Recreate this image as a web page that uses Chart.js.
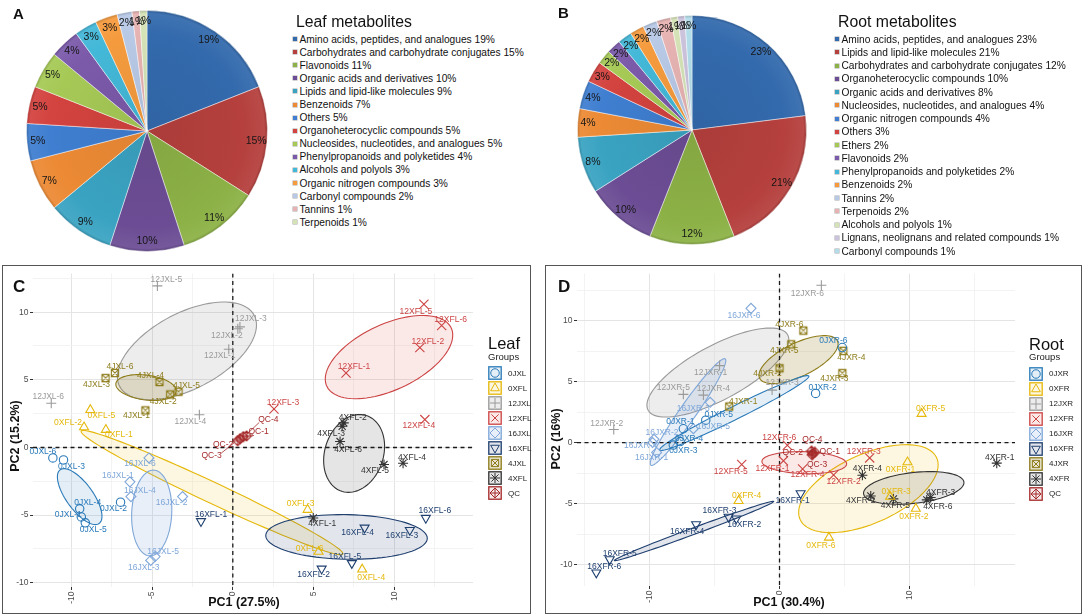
<!DOCTYPE html>
<html>
<head>
<meta charset="utf-8">
<title>Leaf and root metabolites</title>
<script src="https://cdn.jsdelivr.net/npm/chart.js@4.4.1/dist/chart.umd.min.js"></script>
<style>
  body { margin: 0; width: 1084px; height: 615px; background: #fff; position: relative; overflow: hidden;
         font-family: "Liberation Sans", Arial, Helvetica, sans-serif; color: #111; }
  .abs { position: absolute; }
  .tag { font-weight: bold; line-height: 1; }
  .pieTitle { font-size: 15.8px; line-height: 1; white-space: nowrap; }
  .pieLeg div { font-size: 10.2px; white-space: nowrap; display: flex; align-items: center; }
  .pieLeg i { display: inline-block; width: 4px; height: 4px; margin-right: 2.5px; box-shadow: 0 0 0 0.5px rgba(0,0,0,.35); }
  .frame { border: 1.5px solid #555; box-sizing: border-box; }
  .axTitle { font-weight: bold; font-size: 12.5px; white-space: nowrap; transform: translate(-50%, -50%); }
  .axTitle.v { transform: translate(-50%, -50%) rotate(-90deg); }
  .grpTitle { font-size: 16.5px; line-height: 1; }
  .grpSub { font-size: 9.5px; line-height: 1; color: #222; }
  .grpLeg div { height: 15px; display: flex; align-items: center; font-size: 8px; color: #222; }
  .grpLeg canvas { margin-right: 6px; }
</style>
</head>
<body>

<canvas id="pieA" class="abs" style="left:0;top:0" width="290" height="260"></canvas>
<canvas id="pieB" class="abs" style="left:545px;top:0" width="290" height="260"></canvas>
<div class="abs tag" style="left:13px;top:6px;font-size:15px">A</div>
<div class="abs tag" style="left:558px;top:5px;font-size:15px">B</div>
<div class="abs pieTitle" style="left:296px;top:14px">Leaf metabolites</div>
<div class="abs pieTitle" style="left:838px;top:14px">Root metabolites</div>
<div id="legA" class="abs pieLeg" style="left:293px;top:32.5px"></div>
<div id="legB" class="abs pieLeg" style="left:835px;top:32.4px"></div>

<div class="abs frame" style="left:2px;top:265px;width:529px;height:349px"></div>
<div class="abs frame" style="left:545px;top:265px;width:537px;height:349px"></div>
<canvas id="pcaLeaf" class="abs" style="left:4px;top:266px" width="524" height="345"></canvas>
<canvas id="pcaRoot" class="abs" style="left:548px;top:266px" width="530" height="345"></canvas>
<div class="abs tag" style="left:13px;top:278px;font-size:17px">C</div>
<div class="abs tag" style="left:558px;top:278px;font-size:17px">D</div>
<div class="abs axTitle" style="left:244px;top:602px">PC1 (27.5%)</div>
<div class="abs axTitle v" style="left:15px;top:436px">PC2 (15.2%)</div>
<div class="abs axTitle" style="left:789px;top:602px">PC1 (30.4%)</div>
<div class="abs axTitle v" style="left:556px;top:439px">PC2 (16%)</div>

<div class="abs grpTitle" style="left:488px;top:334.5px">Leaf</div>
<div class="abs grpSub" style="left:488px;top:352px">Groups</div>
<div id="grpLeaf" class="abs grpLeg" style="left:488px;top:365.8px"></div>
<div class="abs grpTitle" style="left:1029px;top:335.5px">Root</div>
<div class="abs grpSub" style="left:1029px;top:352px">Groups</div>
<div id="grpRoot" class="abs grpLeg" style="left:1029px;top:366px"></div>

<script>
// ---- pie data (A: leaf, B: root) ----
const leafClasses = ['Amino acids, peptides, and analogues', 'Carbohydrates and carbohydrate conjugates', 'Flavonoids',
  'Organic acids and derivatives', 'Lipids and lipid-like molecules', 'Benzenoids', 'Others', 'Organoheterocyclic compounds',
  'Nucleosides, nucleotides, and analogues', 'Phenylpropanoids and polyketides', 'Alcohols and polyols',
  'Organic nitrogen compounds', 'Carbonyl compounds', 'Tannins', 'Terpenoids'];
const leafShares = [19, 15, 11, 10, 9, 7, 5, 5, 5, 4, 3, 3, 2, 1, 1];

const rootClasses = ['Amino acids, peptides, and analogues', 'Lipids and lipid-like molecules',
  'Carbohydrates and carbohydrate conjugates', 'Organoheterocyclic compounds', 'Organic acids and derivatives',
  'Nucleosides, nucleotides, and analogues', 'Organic nitrogen compounds', 'Others', 'Ethers', 'Flavonoids',
  'Phenylpropanoids and polyketides', 'Benzenoids', 'Tannins', 'Terpenoids', 'Alcohols and polyols',
  'Lignans, neolignans and related compounds', 'Carbonyl compounds'];
const rootShares = [23, 21, 12, 10, 8, 4, 4, 3, 2, 2, 2, 2, 2, 2, 1, 1, 1];

// ---- PCA scores (C: leaf, D: root) ----
const leafSamples = ['0JXL-1','0JXL-2','0JXL-3','0JXL-4','0JXL-5','0JXL-6',
  '0XFL-1','0XFL-2','0XFL-3','0XFL-4','0XFL-5','0XFL-6',
  '12JXL-1','12JXL-2','12JXL-3','12JXL-4','12JXL-5','12JXL-6',
  '12XFL-1','12XFL-2','12XFL-3','12XFL-4','12XFL-5','12XFL-6',
  '16JXL-1','16JXL-2','16JXL-3','16JXL-4','16JXL-5','16JXL-6',
  '16XFL-1','16XFL-2','16XFL-3','16XFL-4','16XFL-5','16XFL-6',
  '4JXL-1','4JXL-2','4JXL-3','4JXL-4','4JXL-5','4JXL-6',
  '4XFL-1','4XFL-2','4XFL-3','4XFL-4','4XFL-5','4XFL-6',
  'QC-1','QC-2','QC-3','QC-4'];
const leafPC1 = [-9.38, -6.95, -10.48, -9.48, -9.13, -11.14,
  -7.86, -9.21, 4.63, 8.01, -8.82, 5.31,
  -0.25, 0.31, 0.44, -2.07, -4.67, -11.24,
  7.01, 11.58, 2.55, 11.89, 11.83, 12.93,
  -6.37, -3.11, -5.08, -6.31, -4.81, -5.19,
  -1.97, 5.50, 10.96, 8.16, 7.37, 11.95,
  -5.41, -3.88, -7.88, -4.54, -3.36, -7.30,
  4.98, 6.87, 6.77, 10.54, 9.36, 6.64,
  0.85, 0.45, 0.30, 0.65];
const leafPC2 = [-5.13, -4.04, -0.92, -4.53, -5.57, -0.77,
  1.31, 1.50, -4.60, -9.01, 2.78, -7.70,
  7.26, 8.77, 8.91, 2.42, 11.94, 3.27,
  5.50, 7.38, 2.85, 2.06, 10.58, 9.01,
  -2.54, -3.63, -8.35, -3.63, -8.06, -0.77,
  -5.45, -8.96, -6.10, -5.93, -8.55, -5.21,
  2.74, 3.92, 5.13, 4.84, 4.12, 5.50,
  -5.21, 1.82, 1.57, -1.16, -1.26, 0.44,
  0.85, 0.65, 0.50, 0.80];

const rootSamples = ['0JXR-1','0JXR-2','0JXR-3','0JXR-4','0JXR-5','0JXR-6',
  '0XFR-1','0XFR-2','0XFR-3','0XFR-4','0XFR-5','0XFR-6',
  '12JXR-1','12JXR-2','12JXR-3','12JXR-4','12JXR-5','12JXR-6',
  '12XFR-1','12XFR-2','12XFR-3','12XFR-4','12XFR-5','12XFR-6',
  '16JXR-1','16JXR-2','16JXR-3','16JXR-4','16JXR-5','16JXR-6',
  '16XFR-1','16XFR-2','16XFR-3','16XFR-4','16XFR-5','16XFR-6',
  '4JXR-1','4JXR-2','4JXR-3','4JXR-4','4JXR-5','4JXR-6',
  '4XFR-1','4XFR-2','4XFR-3','4XFR-4','4XFR-5','4XFR-6',
  'QC-1','QC-2','QC-3','QC-4'];
const rootPC1 = [-7.38, 2.77, -8.15, -7.63, -5.66, 4.82,
  9.82, 10.46, 8.49, -3.14, 10.90, 3.79,
  -4.60, -12.72, -0.57, -5.84, -7.38, 3.21,
  0.30, 4.15, 6.92, 1.77, -2.90, 0.60,
  -9.43, -9.63, -5.32, -9.74, -6.61, -2.19,
  1.62, -3.32, -3.91, -6.40, -13.03, -14.06,
  -3.86, 0.00, 4.82, 4.90, 0.90, 1.83,
  16.67, 7.00, 11.60, 6.36, 8.74, 11.30,
  2.70, 2.55, 2.50, 2.45];
const rootPC2 = [1.13, 4.03, -0.21, 0.08, 1.83, 7.79,
  -1.61, -5.42, -4.43, -4.78, 2.36, -7.79,
  6.31, 1.07, 4.30, 3.89, 3.95, 12.89,
  -1.50, -2.66, -1.26, -2.17, -1.80, -0.22,
  -0.81, 0.27, 3.30, 0.00, 1.13, 11.00,
  -4.16, -6.23, -6.09, -6.71, -9.58, -10.66,
  2.95, 6.09, 5.69, 7.52, 8.05, 9.18,
  -1.69, -4.38, -4.50, -2.68, -4.62, -4.70,
  -0.80, -0.90, -1.00, -0.70];

const leafGroups = ['0JXL', '0XFL', '12JXL', '12XFL', '16JXL', '16XFL', '4JXL', '4XFL', 'QC'];
const rootGroups = ['0JXR', '0XFR', '12JXR', '12XFR', '16JXR', '16XFR', '4JXR', '4XFR', 'QC'];

// confidence ellipses: group, centre (pc1, pc2), two conjugate semi-axes (pc units)
const leafEllipses = [
  ['12JXL', -2.84, 7.14, 4.15, 2.66, 1.15, -2.44],
  ['0XFL', -1.29, -3.33, 8.10, -4.54, -0.28, -0.69],
  ['16JXL', -5.02, -4.84, 0.10, 3.17, 1.24, 0.00],
  ['0JXL', -9.48, -3.63, 1.20, -1.99, 0.68, 0.56],
  ['4JXL', -5.37, 4.43, 1.87, -0.29, -0.10, -0.91],
  ['12XFL', 9.67, 6.68, 3.84, 2.18, 0.91, -2.17],
  ['4XFL', 7.51, -0.44, 0.73, 2.81, 1.74, -0.61],
  ['16XFL', 7.04, -6.61, 5.00, -0.10, 0.00, 1.65]];
const rootEllipses = [
  ['12JXR', -4.73, 5.74, 5.35, 3.10, 1.02, -1.93],
  ['4JXR', 1.46, 6.80, 2.98, 1.54, 0.57, -1.22],
  ['16JXR', -7.02, 2.50, 2.85, 4.36, 0.53, -0.38],
  ['0JXR', -3.47, 2.42, 5.72, 3.03, 0.23, -0.48],
  ['0XFR', 6.82, -3.78, 5.23, 2.55, 1.14, -2.55],
  ['4XFR', 10.30, -3.72, 3.85, 0.48, 0.15, -1.25],
  ['12XFR', 1.90, -1.65, 3.25, -0.10, 0.00, 0.90],
  ['16XFR', -6.56, -7.25, 6.11, 2.42, 0.09, -0.25]];

// axis grid values and labelled ticks
const leafPC1Grid = [-10, -7.5, -5, -2.5, 0, 2.5, 5, 7.5, 10, 12.5];
const leafPC1Ticks = [-10, -5, 0, 5, 10];
const leafPC2Grid = [-10, -7.5, -5, -2.5, 0, 2.5, 5, 7.5, 10, 12.5];
const leafPC2Ticks = [-10, -5, 0, 5, 10];
const rootPC1Grid = [-15, -10, -5, 0, 5, 10, 15];
const rootPC1Ticks = [-10, 0, 10];
const rootPC2Grid = [-10, -7.5, -5, -2.5, 0, 2.5, 5, 7.5, 10, 12.5];
const rootPC2Ticks = [-10, -5, 0, 5, 10];

// ---- styling ----
const FONT = '"Liberation Sans", Arial, Helvetica, sans-serif';
const pieColors = ['#336aad', '#b5403d', '#8cb146', '#6c4d95', '#3aa3c2', '#ec8a35',
  '#3f7ed0', '#d3433f', '#a6c956', '#7b5aaa', '#44b8d8', '#f59b3e',
  '#b8c9e6', '#e6b3b2', '#d4e2b6', '#cbc2dc', '#b2dce9'];
const groupColors = ['#2a7ab9', '#e5b80b', '#9a9a9a', '#cc4444', '#7fa7d9', '#1f3f6f', '#8f7d1c', '#333333', '#a52a2a'];
const groupFills = ['rgba(42,122,185,0.13)', 'rgba(245,205,70,0.16)', 'rgba(150,150,150,0.17)', 'rgba(225,110,100,0.15)',
  'rgba(127,167,217,0.18)', 'rgba(31,63,111,0.13)', 'rgba(143,125,28,0.2)', 'rgba(70,70,70,0.14)', 'rgba(165,42,42,0.1)'];
const groupShapes = ['circle', 'triangle', 'cross', 'crossRot', 'rectRot', 'triangleDown', 'boxX', 'star', 'diamondPlus'];

const leafLabelShift = {
  '0JXL-1': [-13, -2], '0JXL-2': [-7, 7], '0JXL-3': [8, 7], '0JXL-4': [8, -6], '0JXL-5': [8, 7], '0JXL-6': [-10, -6],
  '0XFL-1': [13, 5], '0XFL-2': [-16, -5], '0XFL-3': [-7, -6], '0XFL-4': [9, 8], '0XFL-5': [11, 6], '0XFL-6': [-9, -3],
  '12JXL-1': [-9, 6], '12JXL-2': [-11, 7], '12JXL-3': [11, -8], '12JXL-4': [-9, 7], '12JXL-5': [9, -6], '12JXL-6': [-3, -7],
  '12XFL-1': [8, -6], '12XFL-2': [8, -6], '12XFL-3': [9, -6], '12XFL-4': [-6, 6], '12XFL-5': [-8, 7], '12XFL-6': [9, -6],
  '16JXL-1': [-12, -6], '16JXL-2': [-11, 6], '16JXL-3': [-7, 7], '16JXL-4': [9, -6], '16JXL-5': [8, -5], '16JXL-6': [-9, 6],
  '16XFL-1': [10, -7], '16XFL-2': [-8, 6], '16XFL-3': [-8, 6], '16XFL-4': [-7, 5], '16XFL-5': [-7, -7], '16XFL-6': [9, -7],
  '4JXL-1': [-9, 5], '4JXL-2': [-7, 7], '4JXL-3': [-9, 7], '4JXL-4': [-9, -6], '4JXL-5': [8, -6], '4JXL-6': [5, -6],
  '4XFL-1': [9, 6], '4XFL-2': [9, -5], '4XFL-3': [-11, 7], '4XFL-4': [9, -6], '4XFL-5': [-9, 6], '4XFL-6': [8, 8],
  'QC-1': [12, -4], 'QC-2': [-17, 6], 'QC-3': [-26, 15], 'QC-4': [25, -17]};
const rootLabelShift = {
  '0JXR-1': [-3, -7], '0JXR-2': [7, -6], '0JXR-3': [10, 6], '0JXR-4': [9, -3], '0JXR-5': [13, -6], '0JXR-6': [-9, -7],
  '0XFR-1': [-7, 7], '0XFR-2': [-2, 8], '0XFR-3': [6, -5], '0XFR-4': [8, -5], '0XFR-5': [9, -5], '0XFR-6': [-8, 8],
  '12JXR-1': [-9, 7], '12JXR-2': [-7, -6], '12JXR-3': [10, -7], '12JXR-4': [10, -6], '12JXR-5': [-10, -7], '12JXR-6': [-14, 8],
  '12XFR-1': [-11, 8], '12XFR-2': [10, 7], '12XFR-3': [-6, -6], '12XFR-4': [5, 6], '12XFR-5': [-11, 7], '12XFR-6': [-8, -8],
  '16JXR-1': [-5, 5], '16JXR-2': [8, -7], '16JXR-3': [-17, 6], '16JXR-4': [-12, 3], '16JXR-5': [20, -2], '16JXR-6': [-7, 7],
  '16XFR-1': [-8, 7], '16XFR-2': [8, 6], '16XFR-3': [-9, -6], '16XFR-4': [-9, 7], '16XFR-5': [10, -6], '16XFR-6': [8, -6],
  '4JXR-1': [14, -5], '4JXR-2': [-12, 5], '4JXR-3': [-8, 6], '4JXR-4': [8, 7], '4JXR-5': [-7, 6], '4JXR-6': [-14, -6],
  '4XFR-1': [3, -6], '4XFR-2': [-10, 5], '4XFR-3': [10, -5], '4XFR-4': [5, -7], '4XFR-5': [2, 7], '4XFR-6': [11, 7],
  'QC-1': [15, -1], 'QC-2': [-20, -1], 'QC-3': [5, 10], 'QC-4': [1, -11]};

function shade(hex, amt) {
  const n = parseInt(hex.slice(1), 16);
  const mix = c => Math.round(amt >= 0 ? c + (255 - c) * amt : c * (1 + amt));
  return `rgb(${mix(n >> 16)},${mix((n >> 8) & 255)},${mix(n & 255)})`;
}

// ---- pies ----
const pctLabels = {
  id: 'pctLabels',
  afterDatasetsDraw(chart) {
    const ctx = chart.ctx;
    const vals = chart.data.datasets[0].data;
    ctx.save();
    ctx.font = '10.5px ' + FONT;
    ctx.fillStyle = '#161616';
    ctx.textAlign = 'center';
    ctx.textBaseline = 'middle';
    chart.getDatasetMeta(0).data.forEach((arc, i) => {
      const p = arc.getProps(['x', 'y', 'startAngle', 'endAngle', 'outerRadius'], true);
      const mid = (p.startAngle + p.endAngle) / 2;
      const r = p.outerRadius * 0.91;
      ctx.fillText(vals[i] + '%', p.x + Math.cos(mid) * r, p.y + Math.sin(mid) * r);
    });
    ctx.restore();
  }
};

function sliceFill(c) {
  const base = pieColors[c.dataIndex];
  const a = c.chart.chartArea;
  if (!a) return base;
  const cx = (a.left + a.right) / 2, cy = (a.top + a.bottom) / 2, r = Math.min(a.width, a.height) / 2;
  const g = c.chart.ctx.createRadialGradient(cx, cy, 0, cx, cy, r);
  g.addColorStop(0, shade(base, -0.06));
  g.addColorStop(0.8, base);
  g.addColorStop(0.97, shade(base, 0.06));
  g.addColorStop(1, shade(base, -0.2));
  return g;
}

function makePie(id, values, pad) {
  return new Chart(document.getElementById(id), {
    type: 'pie',
    data: { labels: values.map((v, i) => i), datasets: [{
      data: values, backgroundColor: sliceFill,
      borderColor: 'rgba(255,255,255,0.45)', borderWidth: 1, hoverOffset: 0 }] },
    options: {
      responsive: false, animation: false, events: [],
      layout: { padding: pad },
      plugins: { legend: { display: false }, tooltip: { enabled: false } }
    },
    plugins: [pctLabels]
  });
}
makePie('pieA', leafShares, { left: 26, right: 22, top: 10, bottom: 8 });
makePie('pieB', rootShares, { left: 32, right: 28, top: 15, bottom: 15 });

function pieLegend(id, names, values, lineH) {
  const el = document.getElementById(id);
  el.innerHTML = names.map((n, i) =>
    `<div style="height:${lineH}px"><i style="background:${pieColors[i]}"></i>${n} ${values[i]}%</div>`).join('');
}
pieLegend('legA', leafClasses, leafShares, 13.1);
pieLegend('legB', rootClasses, rootShares, 13.25);

// ---- PCA scatter ----
function traceShape(g, shape, cx, cy, r) {
  const d = r * 0.72;
  g.beginPath();
  switch (shape) {
    case 'circle': g.arc(cx, cy, r * 0.85, 0, 2 * Math.PI); break;
    case 'triangle': case 'triangleDown': {
      const s = shape === 'triangle' ? 1 : -1;
      g.moveTo(cx, cy - s * r); g.lineTo(cx + r * 0.87, cy + s * r * 0.55); g.lineTo(cx - r * 0.87, cy + s * r * 0.55); g.closePath();
      break;
    }
    case 'cross': g.moveTo(cx - r, cy); g.lineTo(cx + r, cy); g.moveTo(cx, cy - r); g.lineTo(cx, cy + r); break;
    case 'crossRot': g.moveTo(cx - d, cy - d); g.lineTo(cx + d, cy + d); g.moveTo(cx + d, cy - d); g.lineTo(cx - d, cy + d); break;
    case 'rectRot': g.moveTo(cx, cy - r); g.lineTo(cx + r, cy); g.lineTo(cx, cy + r); g.lineTo(cx - r, cy); g.closePath(); break;
    case 'boxX':
      g.rect(cx - d, cy - d, 2 * d, 2 * d);
      g.moveTo(cx - d, cy - d); g.lineTo(cx + d, cy + d); g.moveTo(cx + d, cy - d); g.lineTo(cx - d, cy + d); break;
    case 'star':
      g.moveTo(cx - r, cy); g.lineTo(cx + r, cy); g.moveTo(cx, cy - r); g.lineTo(cx, cy + r);
      g.moveTo(cx - d, cy - d); g.lineTo(cx + d, cy + d); g.moveTo(cx + d, cy - d); g.lineTo(cx - d, cy + d); break;
    case 'diamondPlus':
      g.moveTo(cx, cy - r); g.lineTo(cx + r, cy); g.lineTo(cx, cy + r); g.lineTo(cx - r, cy); g.closePath();
      g.moveTo(cx - r, cy); g.lineTo(cx + r, cy); g.moveTo(cx, cy - r); g.lineTo(cx, cy + r); break;
  }
  g.stroke();
}

function markerCanvas(shape, color) {
  const c = document.createElement('canvas');
  c.width = 12; c.height = 12;
  const g = c.getContext('2d');
  g.strokeStyle = color; g.lineWidth = 1.1;
  traceShape(g, shape, 6, 6, 5);
  return c;
}

function pointStyleFor(shape, color) {
  if (shape === 'boxX' || shape === 'diamondPlus') return markerCanvas(shape, color);
  if (shape === 'triangleDown') return 'triangle';
  return shape;
}
const shapeRadius = { circle: 4.2, triangle: 5.2, triangleDown: 5.2, cross: 5, crossRot: 6.5, rectRot: 5, star: 5, boxX: 5, diamondPlus: 5 };

function groupOf(s) { return s.slice(0, s.lastIndexOf('-')); }
function onList(v, list) { return list.some(t => Math.abs(t - v) < 1e-6); }

const ellipsePlugin = {
  id: 'ellipses',
  beforeDatasetsDraw(chart, args, opts) {
    const { ctx, chartArea: a, scales: { x, y } } = chart;
    ctx.save();
    ctx.beginPath(); ctx.rect(a.left, a.top, a.width, a.height); ctx.clip();
    opts.list.forEach(([g, cx, cy, ux, uy, vx, vy]) => {
      const gi = opts.groups.indexOf(g);
      ctx.beginPath();
      for (let k = 0; k <= 90; k++) {
        const t = k / 90 * 2 * Math.PI;
        const px = x.getPixelForValue(cx + ux * Math.cos(t) + vx * Math.sin(t));
        const py = y.getPixelForValue(cy + uy * Math.cos(t) + vy * Math.sin(t));
        if (k) ctx.lineTo(px, py); else ctx.moveTo(px, py);
      }
      ctx.closePath();
      ctx.fillStyle = groupFills[gi]; ctx.fill();
      ctx.strokeStyle = groupColors[gi]; ctx.lineWidth = 1.1; ctx.stroke();
    });
    // dashed zero lines
    ctx.strokeStyle = '#1a1a1a'; ctx.lineWidth = 1.3; ctx.setLineDash([4, 3.5]);
    const x0 = x.getPixelForValue(0), y0 = y.getPixelForValue(0);
    ctx.beginPath();
    ctx.moveTo(x0, a.top); ctx.lineTo(x0, a.bottom);
    ctx.moveTo(a.left, y0); ctx.lineTo(a.right, y0);
    ctx.stroke();
    ctx.restore();
  }
};

const sampleLabels = {
  id: 'sampleLabels',
  afterDatasetsDraw(chart, args, opts) {
    const ctx = chart.ctx;
    ctx.save();
    ctx.font = '8.5px ' + FONT;
    ctx.textAlign = 'center';
    ctx.textBaseline = 'middle';
    ctx.lineWidth = 0.8;
    chart.data.datasets.forEach((ds, di) => {
      chart.getDatasetMeta(di).data.forEach((pt, i) => {
        const name = ds.data[i].name;
        const sh = opts.shift[name] || [8, -6];
        const lx = pt.x + sh[0], ly = pt.y + sh[1];
        ctx.fillStyle = ds.borderColor;
        ctx.strokeStyle = ds.borderColor;
        const len = Math.hypot(sh[0], sh[1]);
        if (len > 22) {
          const ux = sh[0] / len, uy = sh[1] / len;
          ctx.beginPath();
          ctx.moveTo(pt.x + ux * 4, pt.y + uy * 4);
          ctx.lineTo(lx - ux * 11, ly - uy * 5);
          ctx.stroke();
        }
        ctx.fillText(name, lx, ly);
      });
    });
    ctx.restore();
  }
};

function axis(min, max, grid, ticks, horizontal, size) {
  return {
    type: 'linear', min, max, bounds: 'data',
    afterBuildTicks: s => { s.ticks = grid.map(v => ({ value: v })); },
    afterFit: s => {
      if (horizontal) s.height = size; else s.width = size;
      s.paddingLeft = 0; s.paddingRight = 0; s.paddingTop = 0; s.paddingBottom = 0;
    },
    ticks: {
      autoSkip: false, color: '#4d4d4d', padding: 1.5,
      font: { size: 8.5, family: FONT },
      minRotation: horizontal ? 90 : 0, maxRotation: horizontal ? 90 : 0,
      callback: v => onList(v, ticks) ? String(v) : ''
    },
    grid: {
      color: c => onList(c.tick.value, ticks) ? '#e4e4e4' : '#f0f0f0',
      lineWidth: c => onList(c.tick.value, ticks) ? 1 : 0.8,
      tickColor: c => onList(c.tick.value, ticks) ? '#333' : 'rgba(0,0,0,0)',
      tickLength: 3
    },
    border: { display: false }
  };
}

function makePCA(id, cfg) {
  const datasets = cfg.groups.map((g, gi) => {
    const pts = [];
    cfg.samples.forEach((s, i) => { if (groupOf(s) === g) pts.push({ x: cfg.pc1[i], y: cfg.pc2[i], name: s }); });
    const shape = groupShapes[gi];
    return {
      label: g, data: pts,
      borderColor: groupColors[gi], backgroundColor: 'rgba(0,0,0,0)',
      pointStyle: pointStyleFor(shape, groupColors[gi]),
      rotation: shape === 'triangleDown' ? 180 : 0,
      pointRadius: shapeRadius[shape], pointBorderWidth: 1.1
    };
  });
  return new Chart(document.getElementById(id), {
    type: 'scatter',
    data: { datasets },
    options: {
      responsive: false, animation: false, events: [],
      layout: { padding: cfg.pad },
      scales: {
        x: axis(cfg.xr[0], cfg.xr[1], cfg.xGrid, cfg.xTicks, true, cfg.xAxisH),
        y: axis(cfg.yr[0], cfg.yr[1], cfg.yGrid, cfg.yTicks, false, cfg.yAxisW)
      },
      plugins: {
        legend: { display: false }, tooltip: { enabled: false },
        ellipses: { list: cfg.ellipses, groups: cfg.groups },
        sampleLabels: { shift: cfg.shift }
      }
    },
    plugins: [ellipsePlugin, sampleLabels]
  });
}

makePCA('pcaLeaf', {
  groups: leafGroups, samples: leafSamples, pc1: leafPC1, pc2: leafPC2, ellipses: leafEllipses, shift: leafLabelShift,
  xr: [-12.37, 14.87], yr: [-10.31, 12.85],
  xGrid: leafPC1Grid, xTicks: leafPC1Ticks, yGrid: leafPC2Grid, yTicks: leafPC2Ticks,
  pad: { left: 0, right: 55, top: 2, bottom: 0 }, xAxisH: 24, yAxisW: 29
});
makePCA('pcaRoot', {
  groups: rootGroups, samples: rootSamples, pc1: rootPC1, pc2: rootPC2, ellipses: rootEllipses, shift: rootLabelShift,
  xr: [-15.54, 18.07], yr: [-11.76, 13.85],
  xGrid: rootPC1Grid, xTicks: rootPC1Ticks, yGrid: rootPC2Grid, yTicks: rootPC2Ticks,
  pad: { left: 0, right: 63, top: 2, bottom: 0 }, xAxisH: 25, yAxisW: 29
});

// group legends (key = ellipse swatch + point symbol)
function groupLegend(id, groups) {
  const el = document.getElementById(id);
  groups.forEach((g, gi) => {
    const row = document.createElement('div');
    const c = document.createElement('canvas');
    c.width = 14; c.height = 14;
    const k = c.getContext('2d');
    k.fillStyle = '#fff'; k.fillRect(0, 0, 14, 14);
    k.fillStyle = groupFills[gi]; k.fillRect(0, 0, 14, 14);
    k.strokeStyle = groupColors[gi]; k.lineWidth = 1.3;
    k.strokeRect(0.8, 0.8, 12.4, 12.4);
    k.lineWidth = 1;
    traceShape(k, groupShapes[gi], 7, 7, 5);
    row.appendChild(c);
    row.appendChild(document.createTextNode(g));
    el.appendChild(row);
  });
}
groupLegend('grpLeaf', leafGroups);
groupLegend('grpRoot', rootGroups);
</script>
</body>
</html>
